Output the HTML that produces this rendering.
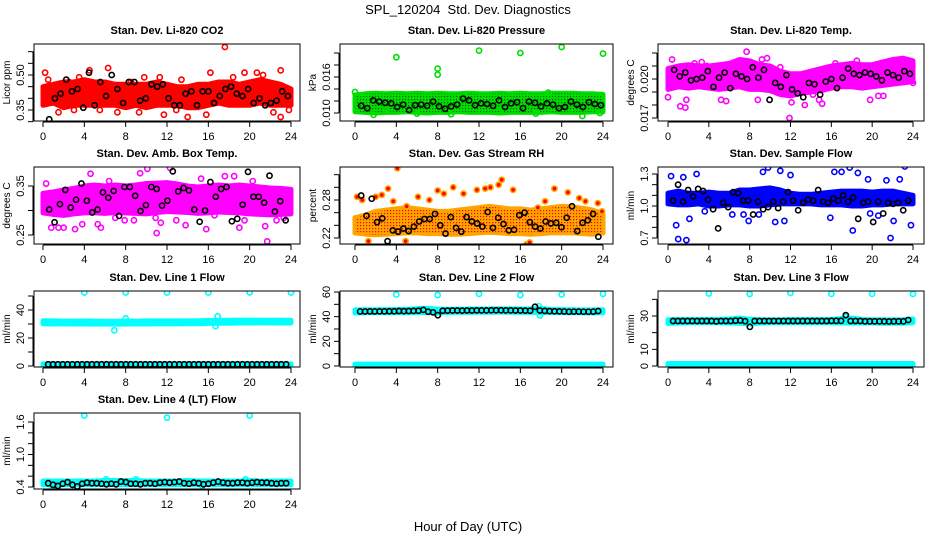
<!DOCTYPE html>
<html><head><meta charset="utf-8">
<style>
html,body{margin:0;padding:0;background:#fff;}
svg{display:block;font-family:"Liberation Sans",sans-serif;}
</style></head>
<body>
<svg id="chart" width="936" height="540" viewBox="0 0 936 540" xmlns="http://www.w3.org/2000/svg">
<rect x="0" y="0" width="936" height="540" fill="#fff"/>
<text x="468" y="14" text-anchor="middle" font-size="13">SPL_120204&#160; Std. Dev. Diagnostics</text>
<text x="468" y="531" text-anchor="middle" font-size="13">Hour of Day (UTC)</text>
</svg>
<script>
// ---- data (hours are 0..24) ----
const xTicks = [0,4,8,12,16,20,24];
const bandHours = [0,1,2,3,4,5,6,7,8,9,10,11,12,13,14,15,16,17,18,19,20,21,22,23,24];

// Panel 1: CO2
const co2Lo = [0.37,0.38,0.36,0.37,0.37,0.37,0.37,0.37,0.36,0.37,0.36,0.37,0.37,0.37,0.36,0.36,0.37,0.38,0.37,0.37,0.37,0.38,0.37,0.37,0.37];
const co2Hi = [0.45,0.46,0.47,0.47,0.48,0.47,0.47,0.46,0.46,0.46,0.46,0.47,0.46,0.45,0.45,0.46,0.46,0.47,0.47,0.46,0.47,0.48,0.47,0.46,0.44];
const co2OutH = [0.2,0.5,1.5,2.5,3.0,3.5,4.5,5.5,6.3,7.2,8.5,9.3,9.8,10.5,11.3,11.7,12.9,13.4,14.0,15.8,16.2,17.6,18.4,19.5,20.7,21.3,22.3,23.0,23.8,23.0];
const co2OutV = [0.51,0.48,0.34,0.47,0.35,0.49,0.52,0.35,0.53,0.34,0.47,0.34,0.49,0.46,0.49,0.33,0.35,0.48,0.32,0.33,0.51,0.62,0.49,0.51,0.51,0.50,0.34,0.52,0.35,0.32];
const co2Black = [0.31,0.40,0.42,0.48,0.43,0.44,0.36,0.51,0.37,0.47,0.41,0.50,0.44,0.38,0.47,0.47,0.39,0.40,0.46,0.45,0.46,0.40,0.37,0.37,0.42,0.43,0.37,0.43,0.43,0.38,0.41,0.44,0.45,0.42,0.41,0.44,0.38,0.40,0.37,0.38,0.39,0.43,0.41];

// Panel 2: pressure
const prLo = [0.0102,0.0101,0.0100,0.0101,0.0101,0.0102,0.0101,0.0100,0.0101,0.0101,0.0102,0.0101,0.0101,0.0101,0.0100,0.0101,0.0101,0.0101,0.0101,0.0102,0.0101,0.0101,0.0101,0.0102,0.0102];
const prHi = [0.0130,0.0132,0.0133,0.0132,0.0133,0.0132,0.0133,0.0132,0.0133,0.0132,0.0132,0.0133,0.0132,0.0132,0.0133,0.0132,0.0133,0.0132,0.0132,0.0133,0.0133,0.0133,0.0132,0.0132,0.0131];
const prOutH = [0.0,0.1,1.8,4.0,8.0,8.0,6.0,12.0,16.0,20.0,24.0,9.3,22.0,17.5,3.0,14.0,18.7,10.5,23.7];
const prOutV = [0.0135,0.0105,0.0097,0.0193,0.0174,0.0164,0.0099,0.0204,0.0200,0.0210,0.0199,0.0098,0.0095,0.0099,0.0105,0.0104,0.0134,0.0131,0.0100];
const prBlack = [0.0112,0.0108,0.0121,0.0119,0.0117,0.0116,0.0110,0.0114,0.0105,0.0113,0.0114,0.0112,0.0119,0.0111,0.0107,0.0111,0.0114,0.0124,0.0121,0.0113,0.0116,0.0115,0.0112,0.0121,0.0110,0.0116,0.0118,0.0108,0.0119,0.0117,0.0111,0.0116,0.0114,0.0108,0.0110,0.0119,0.0114,0.0110,0.0118,0.0115,0.0113];

// Panel 3: Li-820 temp
const tLo = [0.0192,0.0194,0.0193,0.0194,0.0193,0.0192,0.0193,0.0194,0.0192,0.0192,0.0191,0.0188,0.0187,0.0189,0.0190,0.0191,0.0193,0.0194,0.0194,0.0193,0.0194,0.0195,0.0196,0.0197,0.0198];
const tHi = [0.0208,0.0210,0.0211,0.0210,0.0210,0.0211,0.0212,0.0215,0.0214,0.0211,0.0210,0.0206,0.0204,0.0204,0.0206,0.0208,0.0210,0.0211,0.0212,0.0211,0.0211,0.0213,0.0215,0.0216,0.0214];
const tOutH = [0.0,0.4,1.2,1.7,1.8,2.6,3.8,5.2,5.7,7.3,7.7,8.8,9.2,9.7,11.0,11.9,12.1,13.4,14.2,14.8,15.1,16.4,19.8,20.6,21.1,22.4,23.1,24.0,3.3,18.5];
const tOutV = [0.0186,0.0215,0.0179,0.0178,0.0184,0.0212,0.0210,0.0184,0.0183,0.0208,0.0221,0.0184,0.0215,0.0216,0.0209,0.0170,0.0182,0.0180,0.0188,0.0184,0.0181,0.0212,0.0184,0.0187,0.0187,0.0208,0.0214,0.0197,0.0213,0.0214];
const tBlack = [0.0207,0.0202,0.0205,0.0199,0.0200,0.0201,0.0206,0.0194,0.0201,0.0205,0.0193,0.0204,0.0202,0.0200,0.0209,0.0201,0.0207,0.0184,0.0197,0.0194,0.0203,0.0192,0.0189,0.0186,0.0197,0.0196,0.0188,0.0198,0.0200,0.0193,0.0201,0.0208,0.0204,0.0203,0.0205,0.0204,0.0202,0.0199,0.0205,0.0203,0.0201,0.0206,0.0204];

// Panel 4: amb box temp
const aLo = [0.295,0.292,0.290,0.293,0.295,0.295,0.294,0.296,0.295,0.294,0.293,0.296,0.298,0.297,0.296,0.294,0.295,0.297,0.296,0.295,0.293,0.292,0.291,0.292,0.293];
const aHi = [0.335,0.338,0.342,0.345,0.350,0.352,0.350,0.352,0.350,0.352,0.355,0.356,0.357,0.354,0.350,0.348,0.350,0.352,0.350,0.352,0.350,0.348,0.346,0.345,0.343];
const aOutH = [0.3,0.8,1.5,2.0,3.1,3.8,4.6,5.3,5.6,6.4,7.0,7.9,8.8,9.4,10.1,10.9,11.4,12.3,12.9,13.8,15.3,15.8,16.6,17.6,18.5,19.0,19.5,20.3,21.5,21.7,22.6,23.3,23.9,11.0];
const aOutV = [0.355,0.265,0.265,0.265,0.262,0.272,0.375,0.272,0.265,0.360,0.285,0.280,0.280,0.376,0.385,0.285,0.275,0.387,0.280,0.270,0.365,0.262,0.290,0.370,0.370,0.265,0.280,0.360,0.268,0.237,0.280,0.285,0.300,0.254];
const aBlack = [0.302,0.276,0.313,0.342,0.306,0.322,0.355,0.320,0.296,0.302,0.337,0.326,0.340,0.289,0.348,0.348,0.330,0.299,0.311,0.348,0.344,0.310,0.320,0.380,0.339,0.346,0.341,0.302,0.277,0.300,0.358,0.328,0.344,0.348,0.278,0.283,0.312,0.379,0.328,0.328,0.316,0.371,0.298,0.319,0.280];

// Panel 5: gas stream RH
const rLo = [0.228,0.226,0.225,0.226,0.227,0.228,0.228,0.227,0.227,0.226,0.226,0.227,0.228,0.229,0.228,0.227,0.227,0.226,0.227,0.228,0.228,0.228,0.227,0.226,0.228];
const rHi = [0.252,0.256,0.262,0.264,0.266,0.268,0.266,0.264,0.262,0.262,0.264,0.266,0.268,0.270,0.268,0.266,0.266,0.264,0.266,0.268,0.270,0.269,0.267,0.264,0.258];
const rOutH = [0.2,0.7,1.3,2.0,2.6,3.2,3.7,4.1,5.0,6.1,7.2,8.0,8.6,9.5,10.5,11.8,12.6,13.1,13.9,14.2,15.3,16.6,17.7,18.4,19.3,20.6,21.7,22.3,23.5,23.9,4.9,16.9];
const rOutV = [0.285,0.280,0.215,0.285,0.288,0.298,0.278,0.330,0.270,0.285,0.280,0.295,0.290,0.300,0.290,0.296,0.298,0.300,0.304,0.312,0.296,0.210,0.268,0.278,0.298,0.292,0.283,0.278,0.275,0.262,0.215,0.213];
const rBlack = [0.287,0.255,0.282,0.245,0.251,0.215,0.232,0.230,0.235,0.231,0.238,0.246,0.250,0.250,0.258,0.240,0.227,0.253,0.236,0.230,0.253,0.246,0.243,0.238,0.261,0.236,0.252,0.242,0.232,0.233,0.256,0.260,0.245,0.238,0.235,0.246,0.243,0.244,0.237,0.252,0.270,0.231,0.244,0.248,0.258,0.222];

// Panel 6: sample flow
const fLo = [1.02,1.01,1.01,1.02,1.00,1.00,1.01,1.01,1.00,1.00,1.01,1.02,1.02,1.02,1.02,1.01,1.01,1.01,1.00,1.00,1.01,1.01,1.02,1.02,1.02];
const fHi = [1.12,1.14,1.12,1.12,1.13,1.12,1.12,1.15,1.15,1.16,1.17,1.15,1.12,1.11,1.11,1.12,1.13,1.14,1.14,1.14,1.13,1.14,1.14,1.12,1.10];
const fOutH = [0.3,0.8,1.0,1.5,1.8,2.1,2.8,3.6,6.3,7.4,7.9,8.9,9.3,9.8,10.5,11.0,11.4,12.0,15.9,16.3,17.0,17.8,18.1,18.6,19.6,19.8,20.6,21.4,21.8,22.1,22.7,23.2,23.8];
const fOutV = [1.28,0.82,0.69,1.27,0.68,0.88,1.30,0.95,0.92,0.92,0.86,0.92,1.32,1.36,0.85,1.33,0.86,1.29,0.89,1.32,1.32,1.36,0.77,1.31,1.25,0.93,0.91,1.24,0.70,0.86,1.25,1.37,0.82];
const fBlack = [1.05,1.20,1.04,1.15,1.09,1.16,1.14,1.06,0.97,0.79,1.03,0.99,1.13,1.12,1.05,1.05,0.92,1.04,0.97,0.99,1.04,0.98,1.04,1.13,1.05,0.96,1.03,1.06,1.05,1.15,1.04,1.03,1.07,1.05,1.10,1.04,1.08,0.88,1.03,1.04,0.85,1.04,0.93,1.03,1.02,1.03,0.96,1.05];

// Panels 7-9: line flows
const l1Lo = [30.2,30.0,30.1,30.0,30.0,29.9,30.0,29.9,30.0,30.1,30.0,30.1,30.1,30.1,30.2,30.2,30.4,30.6,30.6,30.7,30.7,30.8,30.7,30.7,30.7];
const l1Hi = [32.3,32.2,32.1,32.1,32.2,32.1,32.0,32.0,32.1,32.1,32.2,32.2,32.2,32.2,32.2,32.3,32.5,32.6,32.7,32.8,32.8,32.8,32.7,32.8,32.6];
const l1OutH = [4.0,8.0,12.0,16.0,20.0,24.0,6.9,8.0,16.9,16.7];
const l1OutV = [52.5,52.5,52.5,52.5,52.5,52.5,25.5,34.0,35.5,28.5];
const l1Black = [1.2,1.2,1.2,1.2,1.2,1.2,1.2,1.2,1.2,1.2,1.2,1.2,1.2,1.2,1.2,1.2,1.2,1.2,1.2,1.2,1.2,1.2,1.2,1.2,1.2,1.2,1.2,1.2,1.2,1.2,1.2,1.2,1.2,1.2,1.2,1.2,1.2,1.2,1.2,1.2,1.2,1.2,1.2,1.2,1.2,1.2,1.2,1.2,1.2,1.2];
const l2Lo = [43.0,43.2,43.3,43.2,43.3,43.2,43.4,43.3,43.0,43.4,43.5,43.5,43.6,43.6,43.7,43.6,43.5,43.5,43.4,43.3,43.3,43.2,43.2,43.0,43.2];
const l2Hi = [45.5,45.6,45.6,45.7,45.8,45.8,46.5,46.8,46.0,46.0,46.0,46.2,46.2,46.2,46.3,46.4,46.2,46.3,46.8,45.8,45.7,45.6,45.5,45.4,45.6];
const l2OutH = [4.0,8.0,12.0,16.0,20.0,24.0,17.8,17.9];
const l2OutV = [58.0,57.5,58.5,57.5,58.0,58.5,48.5,41.0];
const l2Black = [44.2,44.2,44.3,44.2,44.3,44.3,44.4,44.4,44.6,44.5,44.6,44.7,44.8,45.5,44.0,43.5,41.2,44.8,44.9,45.0,45.0,44.9,45.0,45.0,45.1,45.1,45.1,45.2,45.2,45.2,45.1,45.1,45.0,45.0,44.9,44.8,48.0,45.0,44.7,44.5,44.4,44.3,44.2,44.0,44.1,44.1,44.0,44.0,44.1,44.6];
const l3Lo = [25.5,25.8,25.9,25.9,25.9,25.9,25.8,25.7,25.2,25.8,25.9,25.9,25.9,25.9,25.9,25.9,25.9,25.8,25.8,25.8,25.8,25.7,25.7,25.7,26.0];
const l3Hi = [27.8,27.9,27.9,27.9,27.9,27.9,28.2,28.8,28.0,27.8,27.8,27.8,27.9,27.9,27.9,27.9,27.9,28.5,28.8,27.9,27.8,27.8,27.8,27.8,28.2];
const l3OutH = [4.0,8.0,12.0,16.0,20.0,24.0,17.4];
const l3OutV = [43.5,43.2,43.8,43.3,43.3,43.2,29.5];
const l3Black = [27.0,27.0,27.0,27.0,27.0,27.0,27.0,27.0,27.0,26.8,27.0,27.0,27.0,27.2,27.3,26.9,23.5,27.0,27.0,27.0,27.0,27.0,27.0,27.0,27.0,27.0,27.0,27.0,27.0,27.0,27.0,27.0,27.0,27.1,27.1,27.1,30.5,27.0,27.0,27.0,26.8,26.8,26.8,26.8,26.8,26.7,26.8,26.8,26.8,27.6];
const zeroLo = [0.0,0.0,0.0,0.0,0.0,0.0,0.0,0.0,0.0,0.0,0.0,0.0,0.0,0.0,0.0,0.0,0.0,0.0,0.0,0.0,0.0,0.0,0.0,0.0,0.0];
const zeroHi = [1.5,1.5,1.5,1.5,1.5,1.5,1.5,1.5,1.5,1.5,1.5,1.5,1.5,1.5,1.5,1.5,1.5,1.5,1.5,1.5,1.5,1.5,1.5,1.5,1.5];

// Panel 10: line 4 flow
const l4Lo = [0.44,0.44,0.44,0.44,0.44,0.44,0.44,0.44,0.44,0.44,0.44,0.44,0.44,0.44,0.44,0.44,0.44,0.44,0.44,0.44,0.44,0.44,0.44,0.44,0.44];
const l4Hi = [0.51,0.51,0.51,0.51,0.51,0.51,0.52,0.52,0.52,0.52,0.51,0.51,0.51,0.51,0.52,0.51,0.51,0.51,0.51,0.51,0.52,0.51,0.51,0.51,0.51];
const l4OutH = [4.0,12.0,20.0,0.9,6.1,9.0,19.6,15.4];
const l4OutV = [1.72,1.68,1.72,0.41,0.54,0.54,0.54,0.42];
const l4Black = [0.47,0.44,0.42,0.46,0.49,0.44,0.41,0.46,0.48,0.47,0.47,0.46,0.45,0.46,0.45,0.50,0.49,0.46,0.46,0.45,0.47,0.47,0.46,0.48,0.49,0.48,0.49,0.50,0.47,0.46,0.48,0.47,0.45,0.46,0.48,0.50,0.48,0.47,0.47,0.48,0.48,0.47,0.48,0.49,0.48,0.48,0.47,0.46,0.47,0.47];

// ---- layout ----
const svg = document.getElementById('chart');
const NS = 'http://www.w3.org/2000/svg';
const cols = [{l:34,r:300,x0:43,x24:291},{l:340,r:613,x0:355,x24:603},{l:658,r:924,x0:668,x24:913}];
const rows = [{t:44,b:121},{t:167,b:244},{t:291,b:367},{t:413,b:489}];

const panels = [
 {key:'co2',title:'Stan. Dev. Li-820 CO2',yl:'Licor ppm',c:0,r:0,col:'#ff0000',yA:0.35,pA:110,yB:0.50,pB:75,ticks:[0.30,0.35,0.40,0.45,0.50,0.55,0.60],labels:['0.35','0.50'],labelVals:[0.35,0.50],lo:co2Lo,hi:co2Hi,oh:co2OutH,ov:co2OutV,bk:co2Black,b0:0.6,bs:0.55},
 {key:'pressure',title:'Stan. Dev. Li-820 Pressure',yl:'kPa',c:1,r:0,col:'#00dd00',dot:'#006600',yA:0.010,pA:113,yB:0.016,pB:77,ticks:[0.010,0.012,0.014,0.016,0.018,0.020],labels:['0.010','0.016'],labelVals:[0.010,0.016],lo:prLo,hi:prHi,oh:prOutH,ov:prOutV,bk:prBlack,b0:0.6,bs:0.58,outNoFill:true},
 {key:'temp',title:'Stan. Dev. Li-820 Temp.',yl:'degrees C',c:2,r:0,col:'#ff00ff',yA:0.017,pA:118,yB:0.020,pB:79,ticks:[0.017,0.018,0.019,0.020,0.021,0.022],labels:['0.017','0.020'],labelVals:[0.017,0.020],lo:tLo,hi:tHi,oh:tOutH,ov:tOutV,bk:tBlack,b0:0.6,bs:0.55},
 {key:'amb-temp',title:'Stan. Dev. Amb. Box Temp.',yl:'degrees C',c:0,r:1,col:'#ff00ff',yA:0.25,pA:235,yB:0.35,pB:186,ticks:[0.25,0.30,0.35],labels:['0.25','0.35'],labelVals:[0.25,0.35],lo:aLo,hi:aHi,oh:aOutH,ov:aOutV,bk:aBlack,b0:0.6,bs:0.52},
 {key:'rh',title:'Stan. Dev. Gas Stream RH',yl:'percent',c:1,r:1,col:'#ffa500',dot:'#ff0000',yA:0.22,pA:238,yB:0.28,pB:200,ticks:[0.22,0.24,0.26,0.28,0.30,0.32],labels:['0.22','0.28'],labelVals:[0.22,0.28],lo:rLo,hi:rHi,oh:rOutH,ov:rOutV,bk:rBlack,b0:0.6,bs:0.51},
 {key:'sample-flow',title:'Stan. Dev. Sample Flow',yl:'ml/min',c:2,r:1,col:'#0000ff',yA:0.7,pA:238,yB:1.3,pB:174,ticks:[0.7,0.8,0.9,1.0,1.1,1.2,1.3],labels:['0.7','1.0','1.3'],labelVals:[0.7,1.0,1.3],lo:fLo,hi:fHi,oh:fOutH,ov:fOutV,bk:fBlack,b0:0.5,bs:0.49},
 {key:'line1',title:'Stan. Dev. Line 1 Flow',yl:'ml/min',c:0,r:2,col:'#00ffff',yA:0,pA:366,yB:40,pB:310,ticks:[0,10,20,30,40,50],labels:['0','20','40'],labelVals:[0,20,40],lo:l1Lo,hi:l1Hi,lo2:zeroLo,hi2:zeroHi,oh:l1OutH,ov:l1OutV,bk:l1Black,b0:0.5,bs:0.47},
 {key:'line2',title:'Stan. Dev. Line 2 Flow',yl:'ml/min',c:1,r:2,col:'#00ffff',yA:0,pA:366,yB:60,pB:292,ticks:[0,10,20,30,40,50,60],labels:['0','20','40','60'],labelVals:[0,20,40,60],lo:l2Lo,hi:l2Hi,lo2:zeroLo,hi2:zeroHi,oh:l2OutH,ov:l2OutV,bk:l2Black,b0:0.5,bs:0.47},
 {key:'line3',title:'Stan. Dev. Line 3 Flow',yl:'ml/min',c:2,r:2,col:'#00ffff',yA:0,pA:366,yB:30,pB:316,ticks:[0,10,20,30,40],labels:['0','10','30'],labelVals:[0,10,30],lo:l3Lo,hi:l3Hi,lo2:zeroLo,hi2:zeroHi,oh:l3OutH,ov:l3OutV,bk:l3Black,b0:0.5,bs:0.47},
 {key:'line4',title:'Stan. Dev. Line 4 (LT) Flow',yl:'ml/min',c:0,r:3,col:'#00ffff',yA:0.4,pA:487,yB:1.6,pB:422,ticks:[0.4,0.6,0.8,1.0,1.2,1.4,1.6],labels:['0.4','1.0','1.6'],labelVals:[0.4,1.0,1.6],lo:l4Lo,hi:l4Hi,oh:l4OutH,ov:l4OutV,bk:l4Black,b0:0.5,bs:0.47}
];

function mk(tag, attrs, parent){
  const e = document.createElementNS(NS, tag);
  for (const k in attrs) e.setAttribute(k, attrs[k]);
  (parent||svg).appendChild(e);
  return e;
}

panels.forEach(p => {
  const C = cols[p.c], R = rows[p.r];
  const xs = h => C.x0 + (C.x24 - C.x0) * h / 24;
  const ys = v => p.pA + (p.pB - p.pA) * (v - p.yA) / (p.yB - p.yA);
  const g = mk('g', {});
  
  

  const cp = mk('clipPath', {id:'clip-'+p.key}, g);
  mk('rect', {x:C.l, y:R.t, width:C.r-C.l, height:R.b-R.t}, cp);
  const plot = mk('g', {'clip-path':'url(#clip-'+p.key+')'}, g);
  
  

  function band(lo, hi, nm){
    let d = '';
    bandHours.forEach((h,i)=>{ d += (i?'L':'M') + xs(h).toFixed(1) + ' ' + ys(hi[i]).toFixed(1); });
    for (let i = bandHours.length-1; i >= 0; i--) d += 'L' + xs(bandHours[i]).toFixed(1) + ' ' + ys(lo[i]).toFixed(1);
    d += 'Z';
    const b = mk('path', {d:d, fill:p.col, stroke:p.col, 'stroke-width':5, 'stroke-linejoin':'round'}, plot);
    
    
    if (p.dot) {
      const pat = mk('pattern', {id:'pat-'+nm, width:3, height:3, patternUnits:'userSpaceOnUse'}, g);
      mk('rect', {x:0,y:0,width:1.2,height:1.2,fill:p.dot}, pat);
      mk('path', {d:d, fill:'url(#pat-'+nm+')'}, plot);
    }
  }
  band(p.lo, p.hi, 'cloud-band-' + p.key);
  if (p.lo2) band(p.lo2, p.hi2, 'zero-band-' + p.key);

  p.oh.forEach((h,i) => {
    const c = mk('circle', {cx:xs(h), cy:ys(p.ov[i]), r:2.6, fill:(p.dot && !p.outNoFill)?p.dot:'none', stroke:p.col, 'stroke-width':1.6}, plot);
    
    
  });
  p.bk.forEach((v,i) => {
    const h = p.b0 + i * p.bs;
    if (h > 24) return;
    const c = mk('circle', {cx:xs(h), cy:ys(v), r:2.6, fill:'none', stroke:'#000', 'stroke-width':1.6}, plot);
    
    
  });

  const box = mk('rect', {x:C.l, y:R.t, width:C.r-C.l, height:R.b-R.t, fill:'none', stroke:'#000', 'stroke-width':1}, g);
  
  

  const t = mk('text', {x:(C.l+C.r)/2, y:R.t-10, 'text-anchor':'middle', 'font-size':11, 'font-weight':'bold'}, g);
  t.textContent = p.title;
  
  

  const xa = mk('g', {}, g);
  
  
  mk('line', {x1:xs(0), x2:xs(24), y1:R.b+1, y2:R.b+1, stroke:'#000'}, xa);
  xTicks.forEach(h => {
    mk('line', {x1:xs(h), x2:xs(h), y1:R.b+1, y2:R.b+6, stroke:'#000'}, xa);
    const lt = mk('text', {x:xs(h), y:R.b+19, 'text-anchor':'middle', 'font-size':11}, xa);
    lt.textContent = String(h);
    
    
  });

  const ya = mk('g', {}, g);
  
  
  const tk = p.ticks.filter(v => ys(v) >= R.t-1 && ys(v) <= R.b+1);
  mk('line', {x1:C.l-1, x2:C.l-1, y1:ys(tk[0]), y2:ys(tk[tk.length-1]), stroke:'#000'}, ya);
  tk.forEach(v => mk('line', {x1:C.l-6, x2:C.l-1, y1:ys(v), y2:ys(v), stroke:'#000'}, ya));
  p.labels.forEach((lab,i) => {
    const y = ys(p.labelVals[i]);
    const lt = mk('text', {x:0, y:0, 'text-anchor':'middle', 'font-size':11, transform:'translate('+(C.l-10)+','+y+') rotate(-90)'}, ya);
    lt.textContent = lab;
    
    
  });
  const yt = mk('text', {x:0, y:0, 'text-anchor':'middle', 'font-size':10, transform:'translate('+(C.l-24)+','+((R.t+R.b)/2)+') rotate(-90)'}, g);
  yt.textContent = p.yl;
  
  
});
</script>
</body></html>
